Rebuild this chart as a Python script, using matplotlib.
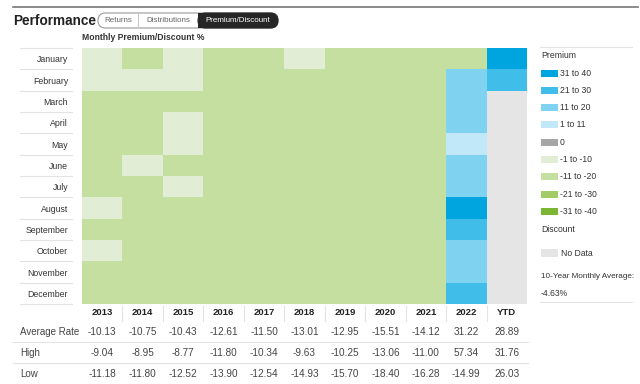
import numpy as np
import matplotlib.pyplot as plt
from matplotlib.colors import ListedColormap, BoundaryNorm
from matplotlib.patches import FancyBboxPatch, Rectangle
from matplotlib.lines import Line2D

plt.rcParams['font.family'] = ['Liberation Sans', 'DejaVu Sans']

months = ['January', 'February', 'March', 'April', 'May', 'June', 'July',
          'August', 'September', 'October', 'November', 'December']
years = ['2013', '2014', '2015', '2016', '2017', '2018', '2019', '2020',
         '2021', '2022', 'YTD']

# monthly premium/discount (%), estimated from the colour bins
y2013 = [-9.5, -9.0, -10.6, -10.8, -11.2, -10.9, -10.7, -9.8, -10.6, -9.9, -10.6, -10.8]
y2014 = [-10.8, -9.0, -11.0, -11.3, -10.9, -10.1, -10.6, -11.0, -10.9, -11.8, -11.2, -11.5]
y2015 = [-9.4, -8.8, -10.6, -9.9, -10.2, -10.7, -10.3, -11.0, -11.4, -11.0, -11.6, -12.5]
y2016 = [-12.2, -12.8, -12.4, -11.8, -12.1, -12.5, -12.6, -13.0, -12.9, -13.1, -13.9, -13.0]
y2017 = [-11.6, -11.2, -11.5, -11.4, -11.0, -10.9, -11.3, -11.8, -11.6, -12.0, -12.5, -11.9]
y2018 = [-9.8, -12.2, -12.5, -12.8, -13.0, -13.1, -13.2, -13.4, -13.6, -14.2, -14.9, -14.3]
y2019 = [-13.8, -13.5, -13.1, -12.9, -12.6, -12.4, -12.3, -12.5, -12.8, -13.0, -12.7, -13.2]
y2020 = [-13.5, -14.0, -18.4, -16.2, -15.9, -15.7, -15.4, -15.6, -15.8, -16.0, -15.2, -14.8]
y2021 = [-13.6, -13.2, -13.8, -14.0, -14.1, -14.3, -14.5, -14.2, -14.6, -14.4, -14.8, -13.9]
y2022 = [-14.99, 15.2, 17.8, 18.6, 8.4, 16.5, 19.2, 36.0, 27.5, 19.4, 18.1, 26.2]
ytd = [35.5, 27.2] + [np.nan] * 10

avg_rate = [-10.13, -10.75, -10.43, -12.61, -11.50, -13.01, -12.95, -15.51, -14.12, 31.22, 28.89]
high = [-9.04, -8.95, -8.77, -11.80, -10.34, -9.63, -10.25, -13.06, -11.00, 57.34, 31.76]
low = [-11.18, -11.80, -12.52, -13.90, -12.54, -14.93, -15.70, -18.40, -16.28, -14.99, 26.03]

bin_labels = ['31 to 40', '21 to 30', '11 to 20', '1 to 11', '0',
              '-1 to -10', '-11 to -20', '-21 to -30', '-31 to -40']
bin_colors = ['#00a5df', '#40bde8', '#80d2f1', '#c0e8f8', '#a6a6a6',
              '#e1eed5', '#c5dfa0', '#a2cc68', '#7cb733']
bounds = [-40.5, -30.5, -20.5, -10.5, -0.5, 0.5, 10.5, 20.5, 30.5, 60]
nodata_color = '#e5e5e5'

data = np.column_stack([y2013, y2014, y2015, y2016, y2017, y2018, y2019,
                        y2020, y2021, y2022, ytd])

W, H = 640, 384
fig = plt.figure(figsize=(6.4, 3.84), dpi=100)
tr = fig.dpi_scale_trans


def X(px):
    return px / 100.0


def Y(py):
    return (H - py) / 100.0


def hline(x0, x1, y, color='#e3e3e3', lw=0.8):
    fig.add_artist(Line2D([X(x0), X(x1)], [Y(y), Y(y)], color=color, lw=lw, transform=tr))


def vline(x, y0, y1, color='#e3e3e3', lw=0.8):
    fig.add_artist(Line2D([X(x), X(x)], [Y(y0), Y(y1)], color=color, lw=lw, transform=tr))


# header
hline(13, 638, 7, color='#777777', lw=1.2)
fig.text(X(13), Y(21), 'Performance', transform=tr, fontsize=9.8,
         fontweight='bold', va='center', ha='left', color='#222222')

# tabs
fig.add_artist(FancyBboxPatch((X(98), Y(28)), X(180), 0.15, transform=tr,
                              boxstyle='round,pad=0,rounding_size=0.075',
                              fc='white', ec='#9a9a9a', lw=0.8))
fig.add_artist(FancyBboxPatch((X(198), Y(28)), X(80), 0.15, transform=tr,
                              boxstyle='round,pad=0,rounding_size=0.075',
                              fc='#262626', ec='#262626', lw=0.8))
fig.add_artist(Rectangle((X(198), Y(28)), X(30), 0.15, transform=tr,
                         fc='#262626', ec='none'))
vline(138, 13, 27, color='#c8c8c8')
fig.text(X(118), Y(20), 'Returns', transform=tr, fontsize=5.8, ha='center',
         va='center', color='#666666')
fig.text(X(168), Y(20), 'Distributions', transform=tr, fontsize=5.8, ha='center',
         va='center', color='#666666')
fig.text(X(238), Y(20), 'Premium/Discount', transform=tr, fontsize=5.8, ha='center',
         va='center', color='white')

fig.text(X(82), Y(38), 'Monthly Premium/Discount %', transform=tr, fontsize=6.2,
         fontweight='bold', ha='left', va='center', color='#333333')

# heatmap
ax = fig.add_axes([82 / W, 1 - 304 / H, 445 / W, 256 / H])
cmap = ListedColormap(bin_colors[::-1])
cmap.set_bad(nodata_color)
norm = BoundaryNorm(bounds, cmap.N)
ax.imshow(np.ma.masked_invalid(data), cmap=cmap, norm=norm, aspect='auto',
          interpolation='nearest')
for s in ax.spines.values():
    s.set_visible(False)
ax.set_xticks([])
ax.set_yticks(range(len(months)))
ax.set_yticklabels(months, fontsize=6.3, color='#333333')
ax.tick_params(axis='y', length=0, pad=10)

# row separators next to month labels
for i in range(len(months) + 1):
    hline(20, 72, 48 + i * 256 / 12)

# year headers and table rows
xt = ax.get_xaxis_transform()
for j, yr in enumerate(years):
    ax.text(j, -0.035, yr, transform=xt, ha='center', va='center',
            fontsize=6.8, fontweight='bold', color='#222222')
    ax.text(j, -0.109, '%.2f' % avg_rate[j], transform=xt, ha='center',
            va='center', fontsize=7.2, color='#444444')
    ax.text(j, -0.191, '%.2f' % high[j], transform=xt, ha='center',
            va='center', fontsize=7.2, color='#444444')
    ax.text(j, -0.273, '%.2f' % low[j], transform=xt, ha='center',
            va='center', fontsize=7.2, color='#444444')
for j in range(1, len(years)):
    vline(82 + j * 445 / 11, 306, 321)

fig.text(X(20), Y(332), 'Average Rate', transform=tr, fontsize=7,
         ha='left', va='center', color='#444444')
fig.text(X(20), Y(353), 'High', transform=tr, fontsize=7,
         ha='left', va='center', color='#444444')
fig.text(X(20), Y(374), 'Low', transform=tr, fontsize=7,
         ha='left', va='center', color='#444444')
hline(13, 528, 342)
hline(13, 528, 363)

# legend
hline(540, 632, 47)
hline(540, 632, 302)
fig.text(X(541), Y(56), 'Premium', transform=tr, fontsize=6.2,
         ha='left', va='center', color='#333333')
for k, (lab, col) in enumerate(zip(bin_labels, bin_colors)):
    yy = 73 + k * 17.3
    fig.add_artist(Rectangle((X(541), Y(yy + 3.5)), X(17), 0.07, transform=tr,
                             fc=col, ec='none'))
    fig.text(X(560), Y(yy), lab, transform=tr, fontsize=6.2,
             ha='left', va='center', color='#333333')
fig.text(X(541), Y(229), 'Discount', transform=tr, fontsize=6.2,
         ha='left', va='center', color='#333333')
fig.add_artist(Rectangle((X(541), Y(257)), X(17), 0.08, transform=tr,
                         fc=nodata_color, ec='none'))
fig.text(X(561), Y(253), 'No Data', transform=tr, fontsize=6.2,
         ha='left', va='center', color='#333333')
fig.text(X(541), Y(277), '10-Year Monthly Average:', transform=tr, fontsize=5.9,
         ha='left', va='center', color='#333333')
fig.text(X(541), Y(293), '-4.63%', transform=tr, fontsize=6.2,
         ha='left', va='center', color='#333333')

fig.savefig('out.png', dpi=100, facecolor='white')
